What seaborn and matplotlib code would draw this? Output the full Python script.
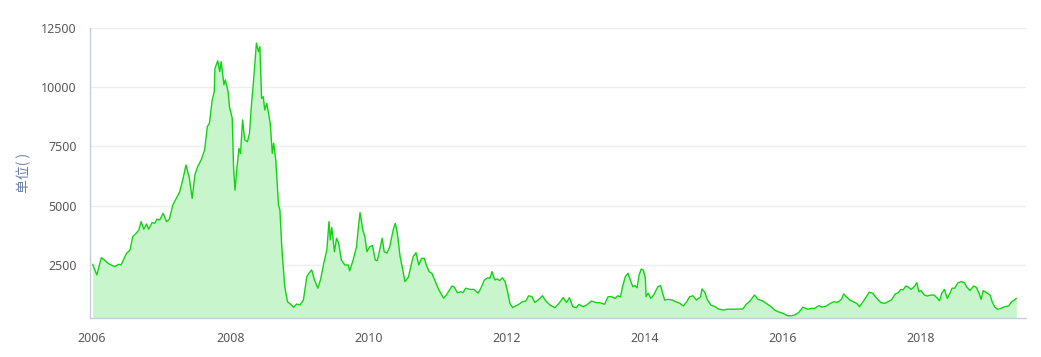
import matplotlib
matplotlib.use("Agg")
import matplotlib.pyplot as plt
import seaborn as sns
import pandas as pd

# decimal-year positions and index values
dates = [
    2006.01, 2006.07, 2006.135, 2006.18, 2006.23, 2006.33, 2006.39, 2006.42, 2006.50, 2006.55,
    2006.59, 2006.64, 2006.68, 2006.71, 2006.75, 2006.79, 2006.82, 2006.87, 2006.91, 2006.94,
    2006.98, 2007.03, 2007.08, 2007.12, 2007.17, 2007.22, 2007.27, 2007.32, 2007.36, 2007.41,
    2007.45, 2007.49, 2007.53, 2007.58, 2007.63, 2007.67, 2007.70, 2007.74, 2007.77, 2007.78,
    2007.82, 2007.85, 2007.87, 2007.91, 2007.93, 2007.97, 2007.99, 2008.03, 2008.05, 2008.07,
    2008.10, 2008.127, 2008.15, 2008.18, 2008.21, 2008.25, 2008.28, 2008.31, 2008.34, 2008.38,
    2008.41, 2008.43, 2008.455, 2008.48, 2008.50, 2008.53, 2008.58, 2008.61, 2008.63, 2008.66,
    2008.70, 2008.72, 2008.75, 2008.79, 2008.83, 2008.87, 2008.92, 2008.96, 2009.01, 2009.06,
    2009.11, 2009.14, 2009.18, 2009.22, 2009.27, 2009.31, 2009.36, 2009.40, 2009.43, 2009.45,
    2009.47, 2009.51, 2009.54, 2009.57, 2009.61, 2009.66, 2009.71, 2009.73, 2009.78, 2009.83,
    2009.85, 2009.88, 2009.92, 2009.95, 2009.98, 2010.02, 2010.06, 2010.10, 2010.13, 2010.17,
    2010.20, 2010.23, 2010.27, 2010.31, 2010.36, 2010.39, 2010.42, 2010.46, 2010.49, 2010.53,
    2010.58, 2010.62, 2010.65, 2010.69, 2010.73, 2010.77, 2010.81, 2010.84, 2010.88, 2010.92,
    2010.96, 2011.02, 2011.09, 2011.13, 2011.16, 2011.21, 2011.24, 2011.29, 2011.34, 2011.37,
    2011.41, 2011.47, 2011.53, 2011.59, 2011.63, 2011.68, 2011.73, 2011.76, 2011.79, 2011.83,
    2011.87, 2011.90, 2011.94, 2011.98, 2012.02, 2012.05, 2012.09, 2012.13, 2012.18, 2012.23,
    2012.28, 2012.32, 2012.37, 2012.41, 2012.46, 2012.52, 2012.57, 2012.63, 2012.70, 2012.76,
    2012.82, 2012.87, 2012.91, 2012.96, 2013.01, 2013.05, 2013.11, 2013.16, 2013.23, 2013.30,
    2013.35, 2013.42, 2013.47, 2013.52, 2013.57, 2013.61, 2013.65, 2013.68, 2013.72, 2013.76,
    2013.80, 2013.83, 2013.86, 2013.89, 2013.92, 2013.95, 2013.98, 2014.01, 2014.02, 2014.05,
    2014.09, 2014.13, 2014.19, 2014.23, 2014.26, 2014.29, 2014.34, 2014.40, 2014.45, 2014.51,
    2014.56, 2014.61, 2014.65, 2014.70, 2014.75, 2014.81, 2014.83, 2014.87, 2014.91, 2014.96,
    2015.02, 2015.07, 2015.14, 2015.21, 2015.28, 2015.35, 2015.42, 2015.47, 2015.52, 2015.59,
    2015.64, 2015.71, 2015.76, 2015.83, 2015.88, 2015.93, 2016.00, 2016.07, 2016.12, 2016.17,
    2016.23, 2016.29, 2016.36, 2016.41, 2016.46, 2016.52, 2016.57, 2016.63, 2016.69, 2016.74,
    2016.79, 2016.85, 2016.88, 2016.92, 2016.97, 2017.02, 2017.07, 2017.11, 2017.16, 2017.21,
    2017.25, 2017.30, 2017.36, 2017.42, 2017.48, 2017.52, 2017.57, 2017.63, 2017.67, 2017.71,
    2017.74, 2017.78, 2017.81, 2017.86, 2017.91, 2017.94, 2017.97, 2018.00, 2018.05, 2018.09,
    2018.14, 2018.19, 2018.24, 2018.27, 2018.30, 2018.34, 2018.38, 2018.42, 2018.45, 2018.49,
    2018.53, 2018.58, 2018.63, 2018.66, 2018.71, 2018.76, 2018.80, 2018.84, 2018.87, 2018.90,
    2018.95, 2019.00, 2019.03, 2019.07, 2019.11, 2019.16, 2019.21, 2019.27, 2019.31, 2019.35,
    2019.38,
]
values = [
    2530, 2078, 2808, 2711, 2570, 2430, 2530, 2500, 2990, 3130,
    3690, 3840, 3980, 4330, 4010, 4230, 4010, 4290, 4260, 4430,
    4400, 4680, 4330, 4430, 5030, 5310, 5590, 6160, 6720, 6160,
    5310, 6300, 6650, 6930, 7350, 8340, 8480, 9460, 9810, 10800,
    11120, 10660, 11080, 10100, 10310, 9810, 9180, 8690, 6580, 5660,
    6650, 7420, 7210, 8620, 7780, 7700, 8060, 9320, 10310, 11860,
    11500, 11710, 9530, 9600, 9040, 9320, 8480, 7210, 7640, 6930,
    5030, 4820, 3130, 1580, 950, 850, 710, 850, 810, 1020,
    2010, 2150, 2290, 1870, 1520, 1900, 2640, 3130, 4330, 3560,
    4090, 3060, 3630, 3420, 2710, 2500, 2500, 2250, 2710, 3270,
    3910, 4710, 3980, 3690, 3060, 3270, 3320, 2710, 2680, 3200,
    3630, 3060, 3000, 3270, 3980, 4260, 3840, 2850, 2430, 1800,
    1980, 2500, 2850, 3020, 2500, 2780, 2780, 2500, 2220, 2150,
    1870, 1450, 1100, 1230, 1370, 1610, 1580, 1330, 1370, 1330,
    1520, 1470, 1470, 1310, 1520, 1870, 1960, 1940, 2220, 1870,
    1910, 1840, 1960, 1800, 1310, 880, 700, 770, 840, 950,
    980, 1200, 1160, 920, 1020, 1200, 980, 810, 700, 880,
    1120, 920, 1120, 740, 700, 840, 740, 810, 980, 910,
    910, 840, 1160, 1160, 1090, 1200, 1160, 1580, 2010, 2150,
    1800, 1580, 1630, 1540, 2080, 2330, 2290, 1940, 1160, 1310,
    1090, 1230, 1580, 1630, 1310, 1020, 1050, 1020, 950, 880,
    770, 950, 1160, 1200, 1020, 1160, 1490, 1350, 1020, 810,
    740, 640, 600, 640, 630, 640, 640, 840, 960, 1230,
    1050, 980, 880, 740, 600, 530, 460, 360, 350, 390,
    490, 720, 630, 670, 670, 780, 720, 770, 880, 950,
    920, 1050, 1280, 1160, 1020, 950, 880, 740, 950, 1160,
    1350, 1310, 1090, 910, 880, 950, 1020, 1280, 1330, 1470,
    1450, 1610, 1580, 1470, 1610, 1750, 1370, 1420, 1230, 1190,
    1230, 1230, 1090, 990, 1310, 1470, 1090, 1310, 1520, 1520,
    1730, 1800, 1750, 1580, 1420, 1610, 1560, 1310, 1050, 1420,
    1330, 1230, 950, 720, 630, 670, 740, 770, 950, 1020,
    1090,
]
x_ticks = [2006, 2008, 2010, 2012, 2014, 2016, 2018]
x_tick_labels = ["2006", "2008", "2010", "2012", "2014", "2016", "2018"]
y_ticks = [2500, 5000, 7500, 10000, 12500]
y_tick_labels = ["2500", "5000", "7500", "10000", "12500"]
y_label = "单位( )"

df = pd.DataFrame({"date": dates, "value": values})

sns.set_theme(style="white")
plt.rcParams["font.family"] = ["Noto Sans", "Noto Sans CJK SC", "DejaVu Sans"]

W, H = 1041, 357
fig = plt.figure(figsize=(W / 100, H / 100), dpi=100)
left, right, top, bottom = 89.5, 1026, 28, 318.3
ax = fig.add_axes([left / W, 1 - bottom / H, (right - left) / W, (bottom - top) / H])

YMIN, YMAX = 250, 12500
ax.fill_between(df["date"], YMIN, df["value"], color="#c8f5cb", linewidth=0, zorder=1)
sns.lineplot(data=df, x="date", y="value", ax=ax, color="#11d411", linewidth=1.0, zorder=3)

ax.set_xlim(2005.964, 2019.52)
ax.set_ylim(YMIN, YMAX)
ax.set_xticks(x_ticks)
ax.set_xticklabels(x_tick_labels)
ax.set_yticks(y_ticks)
ax.set_yticklabels(y_tick_labels)
ax.set_xlabel("")
ax.set_ylabel(y_label, color="#6a80a8", fontsize=10, labelpad=7,
              family=["Noto Sans CJK SC", "DejaVu Sans"])

for yv in y_ticks:
    ax.axhline(yv, color="#eeeeee", linewidth=1.0, zorder=0)

for s in ["top", "right"]:
    ax.spines[s].set_visible(False)
for s in ["left", "bottom"]:
    ax.spines[s].set_color("#c6cedb")
    ax.spines[s].set_linewidth(1.0)

ax.tick_params(axis="both", which="major", length=6, width=1.0, color="#c6cedb",
               labelcolor="#5a5a5a", labelsize=9, direction="out")
ax.tick_params(axis="x", pad=4)
ax.tick_params(axis="y", pad=3)
ax.grid(False)

fig.savefig("out.png", dpi=100)
